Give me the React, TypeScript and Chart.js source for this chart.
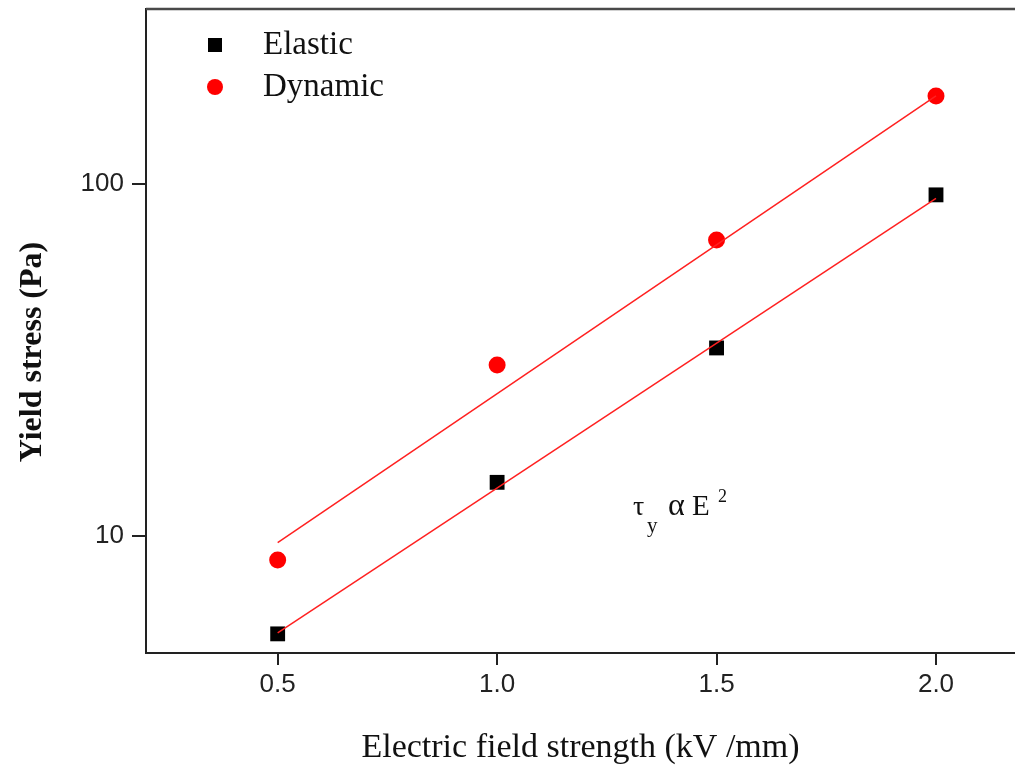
import React, { useEffect, useRef } from "react";
import { Chart, registerables } from "chart.js";

Chart.register(...registerables);

const fieldStrength = [0.5, 1.0, 1.5, 2.0];
const elasticStress = [5.27, 14.2, 34.2, 93.1];
const dynamicStress = [8.55, 30.6, 69.3, 177.8];
const fitX = [0.5, 2.0];
const elasticFit = [5.3, 91];
const dynamicFit = [9.57, 178];
const xTickValues = [0.5, 1.0, 1.5, 2.0];
const yTickValues = [10, 100];
const seriesNames = ["Elastic", "Dynamic"];

const toPoints = (xs: number[], ys: number[]) => xs.map((x, i) => ({ x, y: ys[i] }));

const decorPlugin = {
  id: "decor",
  afterDraw(chart: any) {
    const { ctx, chartArea } = chart;
    ctx.save();
    // top frame line
    ctx.strokeStyle = "#4a4a4a";
    ctx.lineWidth = 2.5;
    ctx.beginPath();
    ctx.moveTo(chartArea.left, chartArea.top);
    ctx.lineTo(chartArea.right, chartArea.top);
    ctx.stroke();

    // legend
    const lx = chartArea.left + 69;
    const tx = chartArea.left + 117;
    ctx.fillStyle = "#000";
    ctx.fillRect(lx - 7, 45 - 7, 14, 14);
    ctx.fillStyle = "#ff0000";
    ctx.beginPath();
    ctx.arc(lx, 87, 8, 0, Math.PI * 2);
    ctx.fill();
    ctx.fillStyle = "#111";
    ctx.font = "33px 'Liberation Serif'";
    ctx.textAlign = "left";
    ctx.textBaseline = "middle";
    ctx.fillText(seriesNames[0], tx, 45);
    ctx.fillText(seriesNames[1], tx, 87);

    // annotation tau_y alpha E^2
    ctx.textBaseline = "alphabetic";
    const ax = 633;
    const base = 515;
    ctx.font = "28px 'Liberation Serif'";
    ctx.fillText("\u03C4", ax, base);
    ctx.font = "21px 'Liberation Serif'";
    ctx.fillText("y", ax + 14, base + 17);
    ctx.font = "32px 'Liberation Serif'";
    ctx.fillText("\u03B1", ax + 35, base);
    ctx.font = "29px 'Liberation Serif'";
    ctx.fillText("E", ax + 59, base);
    ctx.font = "18px 'Liberation Serif'";
    ctx.fillText("2", ax + 85, base - 13);

    // y axis title
    ctx.translate(33, 352);
    ctx.rotate(-Math.PI / 2);
    ctx.font = "bold 32px 'Liberation Serif'";
    ctx.textAlign = "center";
    ctx.textBaseline = "middle";
    ctx.fillStyle = "#111";
    ctx.fillText("Yield stress (Pa)", 0, 0);
    ctx.restore();
  },
};

export default function App() {
  const canvasRef = useRef<HTMLCanvasElement | null>(null);

  useEffect(() => {
    if (!canvasRef.current) return;
    const chart = new Chart(canvasRef.current, {
      type: "scatter",
      data: {
        datasets: [
          {
            label: "Elastic fit",
            data: toPoints(fitX, elasticFit),
            showLine: true,
            borderColor: "#ff2020",
            borderWidth: 1.5,
            pointRadius: 0,
            order: 0,
          },
          {
            label: "Dynamic fit",
            data: toPoints(fitX, dynamicFit),
            showLine: true,
            borderColor: "#ff2020",
            borderWidth: 1.5,
            pointRadius: 0,
            order: 0,
          },
          {
            label: seriesNames[0],
            data: toPoints(fieldStrength, elasticStress),
            pointStyle: "rect",
            pointRadius: 10.5,
            backgroundColor: "#000",
            borderColor: "#000",
            borderWidth: 0,
            order: 1,
          },
          {
            label: seriesNames[1],
            data: toPoints(fieldStrength, dynamicStress),
            pointStyle: "circle",
            pointRadius: 8.5,
            backgroundColor: "#ff0000",
            borderColor: "#ff0000",
            borderWidth: 0,
            order: 1,
          },
        ],
      },
      options: {
        animation: false,
        responsive: true,
        maintainAspectRatio: false,
        layout: { autoPadding: false, padding: { top: 9, right: 0, left: 0, bottom: 0 } },
        plugins: {
          legend: { display: false },
          tooltip: { enabled: false },
        },
        scales: {
          x: {
            type: "linear",
            min: 0.2,
            max: 2.18,
            afterBuildTicks: (s: any) => {
              s.ticks = xTickValues.map((v) => ({ value: v }));
            },
            afterFit: (s: any) => {
              s.height = 119;
              s.paddingLeft = 0;
              s.paddingRight = 0;
              s.paddingTop = 0;
              s.paddingBottom = 0;
            },
            grid: {
              display: true,
              drawOnChartArea: false,
              drawTicks: true,
              tickLength: 12,
              color: "#222",
              lineWidth: 2,
            },
            border: { display: true, color: "#222", width: 2 },
            ticks: {
              padding: 4,
              color: "#222",
              font: { family: "'Liberation Sans'", size: 26 },
              callback: (v: any) => Number(v).toFixed(1),
              maxRotation: 0,
              autoSkip: false,
            },
            title: {
              display: true,
              text: "Electric field strength (kV /mm)",
              color: "#111",
              font: { family: "'Liberation Serif'", size: 34 },
              padding: { top: 4, bottom: 4 },
            },
          },
          y: {
            type: "logarithmic",
            min: 4.65,
            max: 314,
            afterBuildTicks: (s: any) => {
              s.ticks = yTickValues.map((v) => ({ value: v }));
            },
            afterFit: (s: any) => {
              s.width = 146;
              s.paddingLeft = 0;
              s.paddingRight = 0;
              s.paddingTop = 0;
              s.paddingBottom = 0;
            },
            grid: {
              display: true,
              drawOnChartArea: false,
              drawTicks: true,
              tickLength: 14,
              color: "#222",
              lineWidth: 2,
            },
            border: { display: true, color: "#222", width: 2 },
            ticks: {
              padding: 8,
              color: "#222",
              font: { family: "'Liberation Sans'", size: 26 },
              callback: (v: any) => String(v),
              autoSkip: false,
            },
          },
        },
      },
      plugins: [decorPlugin],
    });
    return () => chart.destroy();
  }, []);

  return (
    <div style={{ position: "absolute", left: 0, top: 0, width: 1015, height: 772, background: "#fff" }}>
      <canvas ref={canvasRef} />
    </div>
  );
}
